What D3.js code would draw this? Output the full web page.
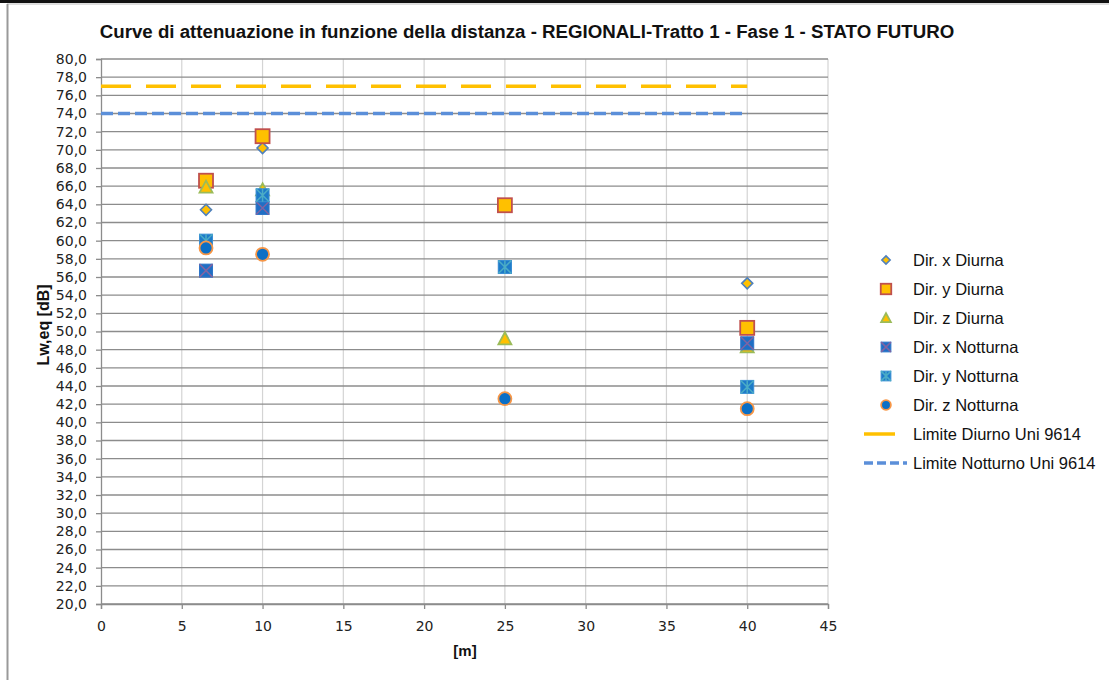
<!DOCTYPE html>
<html><head><meta charset="utf-8">
<script src="https://cdn.jsdelivr.net/npm/d3@7"></script>
<style>
body{margin:0;background:#fff;}
svg{display:block;}
</style></head>
<body>
<svg id="c" width="1109" height="680"></svg>
<script>
const distances = [6.5, 10, 25, 40];
const dirXDiurna = [63.4, 70.2, 63.8, 55.3];
const dirYDiurna = [66.6, 71.5, 63.9, 50.4];
const dirZDiurna = [65.9, 65.6, 49.2, 48.3];
const dirXNotturna = [56.7, 63.6, 57.1, 48.7];
const dirYNotturna = [60.0, 65.0, 57.1, 43.9];
const dirZNotturna = [59.2, 58.5, 42.6, 41.5];
const limitX = [0, 40];
const limiteDiurno = [77, 77];
const limiteNotturno = [74, 74];
const xTicks = [0,5,10,15,20,25,30,35,40,45];
const yTicks = d3.range(20, 80.1, 2);
const seriesNames = ["Dir. x Diurna","Dir. y Diurna","Dir. z Diurna","Dir. x Notturna","Dir. y Notturna","Dir. z Notturna","Limite Diurno Uni 9614","Limite Notturno Uni 9614"];

const svg = d3.select("#c");
// frame
svg.append("rect").attr("x",0).attr("y",0).attr("width",1109).attr("height",3).attr("fill","#111");
svg.append("line").attr("x1",7).attr("x2",1109).attr("y1",4).attr("y2",4).attr("stroke","#bbb");
svg.append("line").attr("x1",7.5).attr("x2",7.5).attr("y1",4).attr("y2",680).attr("stroke","#999").attr("stroke-width",2);

const x = d3.scaleLinear().domain([0,45]).range([101,828]);
const y = d3.scaleLinear().domain([20,80]).range([604,59]);

// grid
svg.append("g").selectAll("line").data(xTicks.slice(1)).join("line")
  .attr("x1",d=>x(d)).attr("x2",d=>x(d)).attr("y1",y(80)).attr("y2",y(20))
  .attr("stroke","#d4d4d4").attr("stroke-width",1.2);
svg.append("g").selectAll("line").data(yTicks).join("line")
  .attr("x1",x(0)).attr("x2",x(45)).attr("y1",d=>y(d)).attr("y2",d=>y(d))
  .attr("stroke","#8c8c8c").attr("stroke-width",1.3);

const fmt = d => d.toFixed(1).replace(".", ",");
const yAxis = svg.append("g").attr("transform",`translate(${x(0)},0)`)
  .call(d3.axisLeft(y).tickValues(yTicks).tickFormat(fmt).tickSize(5).tickPadding(9));
const xAxis = svg.append("g").attr("transform",`translate(0,${y(20)})`)
  .call(d3.axisBottom(x).tickValues(xTicks).tickSize(5).tickPadding(12));
[yAxis,xAxis].forEach(a=>{
  a.selectAll("path,line").attr("stroke","#8c8c8c").attr("stroke-width",1.3);
  a.selectAll("text").attr("font-family","'DejaVu Sans', sans-serif").attr("font-size",14).attr("fill","#222");
});

// title & labels
svg.append("text").attr("x",527).attr("y",38).attr("text-anchor","middle")
  .attr("font-family","'Liberation Sans', Arial, sans-serif").attr("font-weight","bold").attr("font-size",18.7)
  .attr("fill","#111").text("Curve di attenuazione in funzione della distanza - REGIONALI-Tratto 1 - Fase 1 - STATO FUTURO");
svg.append("text").attr("transform","translate(49,325) rotate(-90)").attr("text-anchor","middle")
  .attr("font-family","'Liberation Sans', Arial, sans-serif").attr("font-weight","bold").attr("font-size",16).attr("fill","#111").text("Lw,eq [dB]");
svg.append("text").attr("x",465).attr("y",656).attr("text-anchor","middle")
  .attr("font-family","'Liberation Sans', Arial, sans-serif").attr("font-weight","bold").attr("font-size",15).attr("fill","#111").text("[m]");

// limit lines
const line = d3.line().x(d=>x(d[0])).y(d=>y(d[1]));
svg.append("path").datum(limitX.map((d,i)=>[d,limiteDiurno[i]])).attr("d",line)
  .attr("stroke","#FFC000").attr("stroke-width",3.5).attr("fill","none").attr("stroke-dasharray","30,15");
svg.append("path").datum(limitX.map((d,i)=>[d,limiteNotturno[i]])).attr("d",line)
  .attr("stroke","#5B8FD9").attr("stroke-width",3.5).attr("fill","none").attr("stroke-dasharray","12,5");

// marker drawers
function drawMarker(g, type, cx, cy, s) {
  s = s || 1;
  if (type==="diamond") {
    const r=5.5*s;
    g.append("path").attr("d",`M${cx},${cy-r}L${cx+r},${cy}L${cx},${cy+r}L${cx-r},${cy}Z`)
      .attr("fill","#FFC000").attr("stroke","#4F81BD").attr("stroke-width",1.6);
  } else if (type==="square") {
    const h=7*s;
    g.append("rect").attr("x",cx-h).attr("y",cy-h).attr("width",2*h).attr("height",2*h)
      .attr("fill","#FFC000").attr("stroke","#C0504D").attr("stroke-width",1.8);
  } else if (type==="triangle") {
    const h=6.5*s;
    g.append("path").attr("d",`M${cx},${cy-h}L${cx+h},${cy+h*0.85}L${cx-h},${cy+h*0.85}Z`)
      .attr("fill","#FFC000").attr("stroke","#9BBB59").attr("stroke-width",1.8);
  } else if (type==="xsq") {
    const h=6.5*s;
    g.append("rect").attr("x",cx-h).attr("y",cy-h).attr("width",2*h).attr("height",2*h)
      .attr("fill","#1F6FC5").attr("stroke","#2E75C8").attr("stroke-width",1);
    g.append("path").attr("d",`M${cx-h},${cy-h}L${cx+h},${cy+h}M${cx+h},${cy-h}L${cx-h},${cy+h}`)
      .attr("stroke","#8064A2").attr("stroke-width",1.5);
  } else if (type==="asq") {
    const h=6.5*s;
    g.append("rect").attr("x",cx-h).attr("y",cy-h).attr("width",2*h).attr("height",2*h)
      .attr("fill","#1E7BC8").attr("stroke","#3A8FD4").attr("stroke-width",1);
    g.append("path").attr("d",`M${cx-h},${cy-h}L${cx+h},${cy+h}M${cx+h},${cy-h}L${cx-h},${cy+h}M${cx},${cy-h}L${cx},${cy+h}`)
      .attr("stroke","#4BACC6").attr("stroke-width",1.5);
  } else if (type==="circle") {
    g.append("circle").attr("cx",cx).attr("cy",cy).attr("r",6.5*s)
      .attr("fill","#0B6FC6").attr("stroke","#F79646").attr("stroke-width",1.8);
  }
}

const series = [
  {vals:dirXDiurna,type:"diamond"},
  {vals:dirYDiurna,type:"square"},
  {vals:dirZDiurna,type:"triangle"},
  {vals:dirXNotturna,type:"xsq"},
  {vals:dirYNotturna,type:"asq"},
  {vals:dirZNotturna,type:"circle"}
];
const mg = svg.append("g");
series.forEach(s=>{
  s.vals.forEach((v,i)=>drawMarker(mg, s.type, x(distances[i]), y(v)));
});

// legend
const lg = svg.append("g");
const ly0 = 260, ldy = 29;
seriesNames.forEach((n,i)=>{
  const yy = ly0 + i*ldy;
  if (i<6) drawMarker(lg, series[i].type, 886, yy, 0.75);
  else if (i===6) lg.append("line").attr("x1",864).attr("x2",895).attr("y1",yy).attr("y2",yy)
    .attr("stroke","#FFC000").attr("stroke-width",3.5);
  else lg.append("line").attr("x1",864).attr("x2",907).attr("y1",yy).attr("y2",yy)
    .attr("stroke","#5B8FD9").attr("stroke-width",3.5).attr("stroke-dasharray","9,4");
  lg.append("text").attr("x",913).attr("y",yy+6).attr("font-family","'Liberation Sans', Arial, sans-serif")
    .attr("font-size",16.5).attr("fill","#111").text(n);
});
</script>
</body></html>
